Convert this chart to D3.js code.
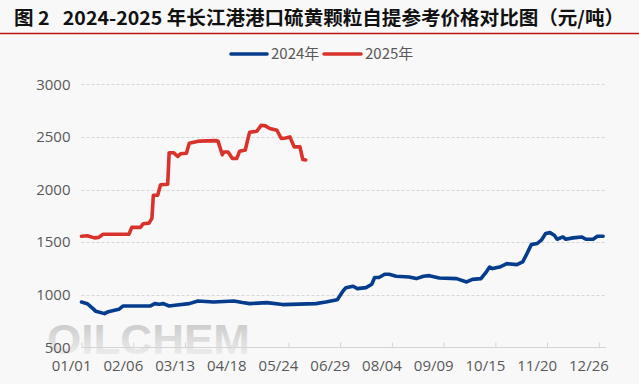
<!DOCTYPE html>
<html><head><meta charset="utf-8">
<script src="https://cdn.jsdelivr.net/npm/d3@7/dist/d3.min.js"></script>
<style>html,body{margin:0;padding:0;background:#f8f8f8;}svg{display:block;}</style>
</head><body><svg id="c" width="639" height="384"></svg>
<script>
// ---- data (dates mapped on a 2024 calendar, MM/DD) ----
const dates2024 = ["01/01","01/05","01/09","01/11","01/17","01/19","01/24","01/27","01/30","02/18","02/21","02/24","02/27","03/02","03/06","03/16","03/22","04/02","04/16","04/22","04/27","05/09","05/20","06/12","06/19","06/27","07/01","07/03","07/08","07/11","07/17","07/21","07/23","07/26","07/30","08/02","08/07","08/16","08/21","08/26","08/30","09/06","09/18","09/25","09/29","10/05","10/09","10/11","10/13","10/18","10/23","10/30","11/03","11/06","11/09","11/13","11/16","11/19","11/22","11/25","11/27","12/01","12/03","12/08","12/14","12/17","12/22","12/25","12/29"];
const values2024 = [930,915,868,842,820,835,852,861,893,893,915,909,915,893,900,915,940,930,940,925,915,925,906,915,930,953,1035,1067,1080,1058,1067,1099,1163,1163,1194,1194,1175,1168,1153,1175,1181,1159,1153,1121,1146,1153,1222,1263,1248,1263,1295,1286,1311,1391,1476,1486,1518,1581,1590,1565,1527,1549,1527,1540,1549,1527,1527,1556,1556];
const dates2025 = ["01/01","01/05","01/10","01/13","01/16","02/03","02/05","02/11","02/13","02/17","02/19","02/20","02/23","02/25","03/01","03/02","03/05","03/08","03/10","03/14","03/16","03/23","04/04","04/05","04/08","04/09","04/12","04/15","04/18","04/20","04/24","04/25","04/27","05/02","05/05","05/08","05/11","05/16","05/19","05/22","05/25","05/28","06/01","06/03","06/05"];
const values2025 = [1555,1560,1540,1545,1575,1575,1640,1640,1675,1680,1725,1945,1945,2045,2050,2350,2350,2315,2340,2345,2440,2460,2465,2460,2330,2357,2357,2295,2295,2363,2375,2435,2545,2553,2610,2605,2580,2563,2485,2490,2500,2405,2405,2285,2280];
const xTickLabels = ["01/01","02/06","03/13","04/18","05/24","06/29","08/04","09/09","10/15","11/20","12/26"];
const yTicks = [500,1000,1500,2000,2500,3000];
const seriesNames = ["2024年","2025年"];
const titleText = "图 2\u00a0\u00a0\u00a02024-2025 年长江港港口硫黄颗粒自提参考价格对比图（元/吨）";

const colors = ["#063c8c","#d8322a"];
const parse = d3.timeParse("%Y/%m/%d");
const toDate = s => parse("2024/" + s);

const svg = d3.select("#c");
const m = {left:81.5, right:606, top:84.3, bottom:347.3};

const x = d3.scaleTime().domain([toDate("01/01"), toDate("12/31")]).range([m.left, m.right]);
const y = d3.scaleLinear().domain([500,3000]).range([m.bottom, m.top]);

// title
svg.append("text").attr("x",14).attr("y",25)
  .attr("font-family","'Noto Sans CJK SC','Noto Sans',sans-serif").attr("font-weight","bold")
  .attr("font-size",19).attr("textLength",610).attr("lengthAdjust","spacingAndGlyphs")
  .attr("fill","#111").text(titleText);
svg.append("line").attr("x1",0).attr("x2",639).attr("y1",33.5).attr("y2",33.5)
  .attr("stroke","#b8141a").attr("stroke-width",1.5);

// watermark
const defs = svg.append("defs");
const g = defs.append("linearGradient").attr("id","wm").attr("x1",0).attr("y1",0).attr("x2",0).attr("y2",1);
g.append("stop").attr("offset","0%").attr("stop-color","#c4c4c4");
g.append("stop").attr("offset","100%").attr("stop-color","#f4f4f4");
svg.append("text").attr("x",47).attr("y",354).attr("textLength",203).attr("lengthAdjust","spacingAndGlyphs")
  .attr("font-family","'Liberation Sans',Arial,sans-serif").attr("font-weight","bold").attr("font-size",42)
  .attr("fill","url(#wm)").text("OILCHEM");

// gridlines
svg.append("g").selectAll("line").data(yTicks.filter(v=>v>500)).join("line")
  .attr("x1",m.left).attr("x2",m.right).attr("y1",d=>Math.round(y(d))+0.5).attr("y2",d=>Math.round(y(d))+0.5)
  .attr("stroke","#d6d6d6").attr("stroke-dasharray","3,2");

// y labels
svg.append("g").selectAll("text").data(yTicks).join("text")
  .attr("x",70.5).attr("y",d=>y(d)).attr("dy","0.35em").attr("text-anchor","end")
  .attr("font-family","'Open Sans','Noto Sans',sans-serif").attr("font-size",15).attr("fill","#595959")
  .text(d=>d);

// x axis
const xAxis = d3.axisBottom(x).tickValues(xTickLabels.map(toDate)).tickSize(-5).tickFormat(d3.timeFormat("%m/%d"));
const ax = svg.append("g").attr("transform",`translate(0,${Math.round(m.bottom)+0.5})`).call(xAxis);
ax.select(".domain").attr("stroke","#d4d4d4").attr("d",`M${m.left},0H${m.right}`);
ax.selectAll(".tick line").attr("stroke","#d4d4d4");
ax.selectAll(".tick text").attr("text-anchor","end").attr("dx","9.5px").attr("y",9).attr("dy","0.95em")
  .attr("font-family","'Open Sans','Noto Sans',sans-serif").attr("font-size",15).attr("fill","#595959");

// lines
const line = d3.line().x(d=>x(d[0])).y(d=>y(d[1]));
const s24 = dates2024.map((d,i)=>[toDate(d), values2024[i]]);
const s25 = dates2025.map((d,i)=>[toDate(d), values2025[i]]);
[s24,s25].forEach((s,i)=>{
  svg.append("path").datum(s).attr("d",line).attr("fill","none")
    .attr("stroke",colors[i]).attr("stroke-width",3.6).attr("stroke-linejoin","round").attr("stroke-linecap","round");
});

// legend
const leg = [{x1:231,x2:267,tx:271},{x1:324,x2:361,tx:365}];
leg.forEach((l,i)=>{
  svg.append("line").attr("x1",l.x1).attr("x2",l.x2).attr("y1",54).attr("y2",54)
    .attr("stroke",colors[i]).attr("stroke-width",3.6).attr("stroke-linecap","round");
  svg.append("text").attr("x",l.tx).attr("y",54).attr("dy","0.35em")
    .attr("font-family","'Noto Sans CJK SC','Open Sans',sans-serif").attr("font-size",15).attr("fill","#595959")
    .text(seriesNames[i]);
});
</script></body></html>
